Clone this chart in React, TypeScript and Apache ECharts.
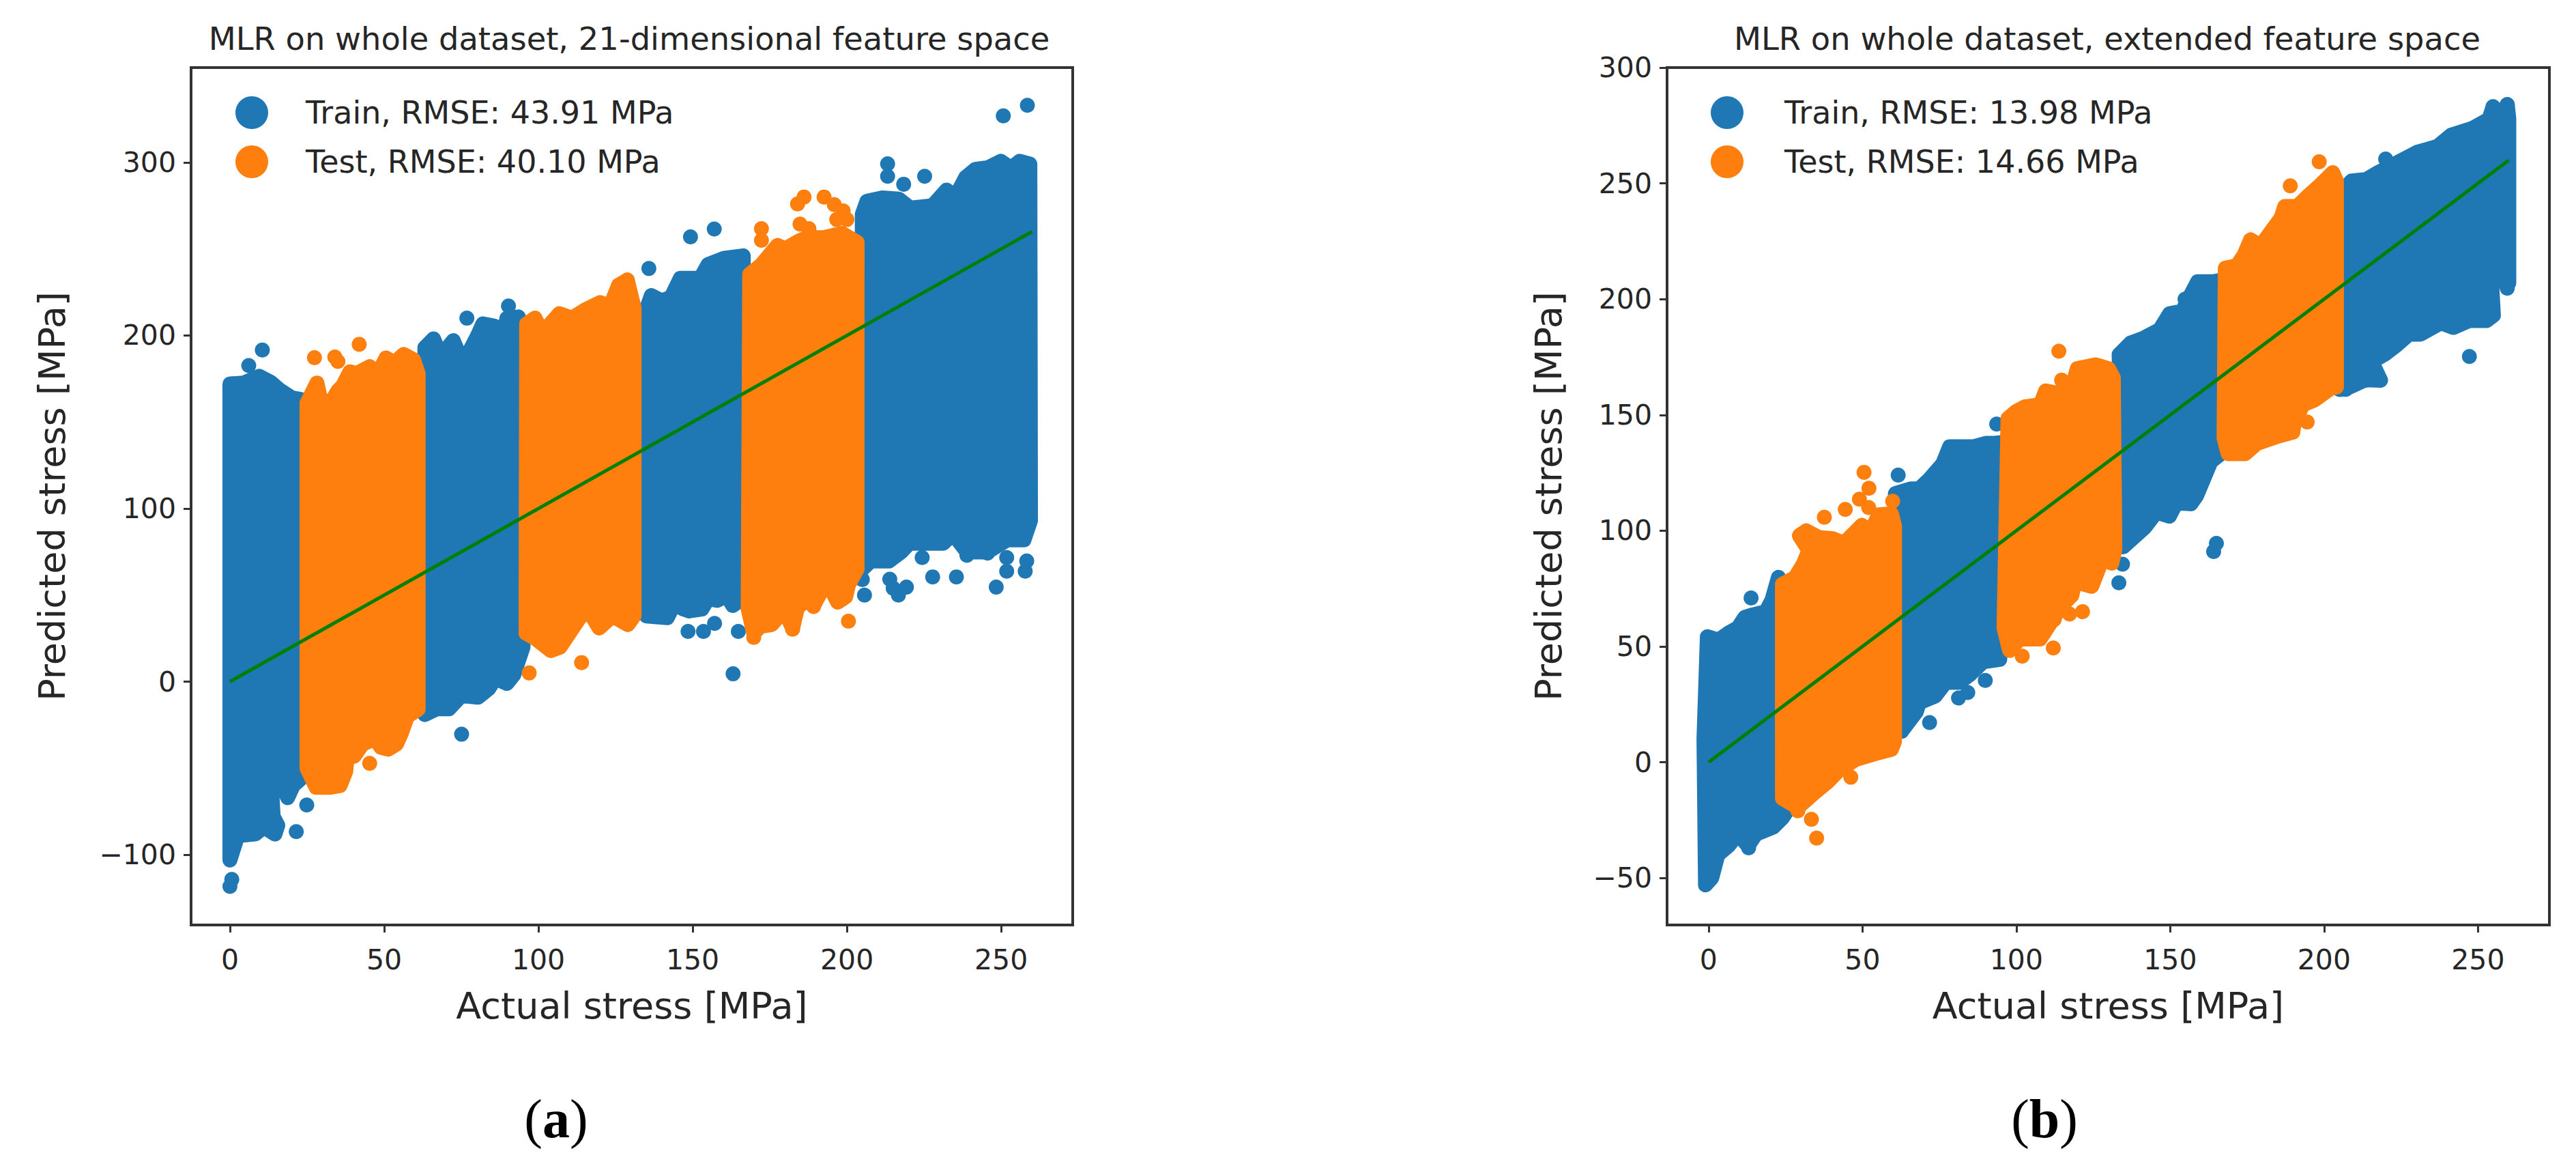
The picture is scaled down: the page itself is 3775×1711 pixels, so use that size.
import React, { useEffect, useRef } from "react";
import * as echarts from "echarts";

const BLUE = "#1f77b4";
const ORANGE = "#ff7f0e";
const GREEN = "#008000";
const INK = "#262626";
const FRAME = "#333333";
const FONT = "'DejaVu Sans'";
const DOT = 22;

const panelTitles = [
  "MLR on whole dataset, 21-dimensional feature space",
  "MLR on whole dataset, extended feature space",
];
const captions = ["a", "b"];
const xLabel = "Actual stress [MPa]";
const yLabel = "Predicted stress [MPa]";
const xTicks = [0, 50, 100, 150, 200, 250];
const aYTicks = [-100, 0, 100, 200, 300];
const bYTicks = [-50, 0, 50, 100, 150, 200, 250, 300];
const idealLine = [[0, 0], [260, 260]];

const aLegend = ["Train, RMSE: 43.91 MPa", "Test, RMSE: 40.10 MPa"];
const bLegend = ["Train, RMSE: 13.98 MPa", "Test, RMSE: 14.66 MPa"];

// ---------- panel (a): outlines ----------
const aTrainTop = [
  [[0, 172], [4.5, 172.5], [9.5, 176.4], [13.2, 173], [16, 168.6], [20, 164], [23, 163]],
  [[63.2, 193], [66, 198], [68.3, 188], [72.4, 197], [75, 186], [77.4, 190], [80.2, 199.5], [82, 206.7], [85.7, 205.4], [88.9, 201.4], [89.8, 210], [93.5, 210.7], [95, 201]],
  [[135, 215], [136.6, 223], [139.9, 220], [143, 222], [146, 233], [152.5, 233], [155, 241], [160.3, 244.6], [166.4, 246]],
  [[205, 270], [206.5, 277.5], [211.5, 279.5], [216.8, 278.8], [220.5, 273.6], [227.8, 275], [232.3, 284], [235.2, 280], [238.5, 291.3], [241.7, 296], [245.8, 297], [249.9, 300.6], [253.2, 296.6], [256, 300.6], [259.3, 299]],
];
const aTrainBottom = [
  [[0, -103], [2.5, -89], [8.2, -88], [11, -84], [14.6, -88], [15.5, -83], [14, -78], [13.5, -62], [17, -59], [18.7, -67], [20.5, -60], [23, -56]],
  [[63.2, -19], [67, -15.7], [71, -15.7], [75, -8], [80.4, -9], [83.9, -4], [86, 2], [89.8, -1], [92, 4], [95, 20]],
  [[135, 38], [141.8, 37], [144, 45], [147, 42], [149, 41], [153, 42], [155, 48], [158, 47], [161, 50], [163, 44], [166, 48]],
  [[205, 65], [207.7, 69.7], [213.6, 69.7], [217.6, 75], [220.3, 80], [227.6, 80], [231.2, 80], [234.4, 85.5], [238.9, 75], [245.6, 75], [252, 82], [257.4, 82], [259.5, 93]],
];
const aTestTop = [
  [[25, 161], [28.2, 172.5], [29.5, 162], [33, 162], [35, 168], [36.6, 171], [38.9, 179], [41.2, 178], [45.3, 182], [48, 178], [50.6, 187], [53.3, 184], [56.3, 189], [59.5, 186], [61, 178]],
  [[96.2, 206.7], [98.9, 210], [101.3, 201.5], [106.8, 212.6], [110.9, 210], [115, 214.6], [120, 219], [123.3, 217], [126, 229], [128.8, 232], [131, 216]],
  [[168.5, 235.4], [172.2, 240.7], [177.5, 252], [180, 250], [184.4, 254.5], [186.9, 256.5], [192.6, 256.5], [198.4, 259], [203.3, 253.8]],
];
const aTestBottom = [
  [[25, -50], [27.9, -61], [32.5, -61], [35.7, -60], [37.5, -52], [38, -44], [40.3, -43], [43, -36], [47, -33], [49, -38], [51.3, -39], [54, -36], [55.5, -30], [57.5, -20], [61, -16]],
  [[96, 28], [99, 25], [104, 18], [107, 20], [110, 28], [113, 36], [116, 42], [119.7, 31], [124, 38], [129, 33], [131, 38]],
  [[168, 42], [169.8, 28], [172, 32], [175.6, 33], [178, 38], [180, 40], [182.4, 31], [184, 43], [187, 47], [189.2, 44], [191, 50], [193, 56], [195, 53], [197, 46], [199.6, 49], [200.5, 56], [203.3, 65]],
];
const aTrainOutliers = [
  [10.5, 191.6], [6.1, 182.6], [76.8, 210], [90.3, 217], [135.8, 238.7], [149.3, 257], [157, 261.5], [213.2, 299.2],
  [213.2, 292], [218.4, 287.4], [225.2, 292], [250.7, 326.9], [258.5, 333], [0.6, -114.3], [0, -118.3], [21.5, -86.7],
  [12.8, -79.5], [24.9, -71.3], [75.1, -30.4], [148.5, 29], [153.5, 29], [157.1, 33.6], [164.8, 29], [163.1, 4.5],
  [205, 59], [205.7, 50], [213.9, 59.2], [216.7, 50], [215, 54], [219.3, 54.6], [227.8, 60.5], [235.5, 60.5],
  [224.4, 71.7], [238.9, 73], [245.6, 74.3], [251.8, 71.7], [251.8, 63.8], [258.3, 69.7], [257.8, 63.8], [248.4, 54.6],
  [148.8, 40.8],
];
const aTestOutliers = [
  [27.4, 187.2], [34, 187.6], [35, 185], [41.9, 194.9], [126, 229], [128.8, 232], [172.3, 261.7], [172.3, 255],
  [184.8, 264.4], [187.7, 261.7], [184, 276], [186.1, 280], [192.6, 280], [195.9, 275.6], [198.8, 272], [196.7, 267],
  [200, 267], [45.3, -47.2], [97, 5], [114, 11], [200.5, 34.9], [169.8, 25.6], [189.2, 43.4], [182.4, 30.3],
];

// ---------- panel (b): outlines ----------
const bTrainTop = [
  [[-1.5, 10], [-0.4, 54.2], [3.2, 52.7], [6.4, 55.7], [9.6, 58.1], [11.8, 62.6], [14.1, 63.5], [18.6, 65], [20.6, 70], [22.7, 79.8], [24, 74]],
  [[60.7, 116], [65.7, 118], [68.4, 118], [71.6, 122], [76.1, 128.9], [78.3, 136.2], [86, 136.2], [90.1, 137.7], [92.8, 137.7], [95, 138]],
  [[133.4, 176], [137.1, 181], [141.2, 183], [146.6, 186.8], [149.8, 193.7], [153.9, 194.7], [158.9, 207.5], [163.8, 207.5], [166, 208]],
  [[205, 245], [208.9, 251], [213.8, 251.7], [217.5, 254.6], [225.3, 260], [230.2, 263.4], [236.8, 265.9], [241.3, 270.8], [248.3, 273.8], [253.6, 277.7], [254.9, 283], [257, 278], [259.5, 284], [260, 278]],
];
const bTrainBottom = [
  [[-1, -53], [1, -50], [3, -40], [6.5, -36], [9.5, -31], [12.8, -36], [15.4, -31], [21, -28], [24, -24], [26, -20]],
  [[62.7, 13.4], [67.5, 21.8], [68.4, 25.7], [73.6, 28.6], [77, 34.5], [81.5, 34.5], [85, 38], [89.2, 43.4], [94.6, 44.4]],
  [[134.7, 93], [141.7, 101.4], [145.5, 108], [149.7, 106.3], [152, 112], [156.7, 111.7], [158.5, 115], [160.4, 121], [163.2, 129.9], [166, 132.8]],
  [[205, 161], [207, 161.3], [213.4, 165.2], [218.3, 165], [215.5, 173], [220, 176.5], [223.4, 180], [227.6, 184.9], [231.3, 184.9], [237.9, 189.8], [242, 187.8], [247.2, 190.8], [252.8, 190.8], [255, 193], [254.5, 205], [256, 209], [260, 207]],
];
const bTestTop = [
  [[24, 76.8], [28.1, 79.7], [30.8, 85.6], [32.6, 91.5], [29.5, 97.9], [31.7, 99.9], [35.8, 97], [40.3, 96.5], [44, 94.5], [49.8, 102.3], [52.6, 99.4], [55.3, 106.8], [59.4, 107.3], [60.4, 102]],
  [[97.3, 148.5], [100, 151.5], [102.7, 153.4], [107.8, 154.4], [109.5, 160.3], [113.6, 159.3], [117.3, 158], [119.8, 170], [125.8, 171.6], [129.9, 170], [131.5, 166]],
  [[167.9, 213.4], [171.6, 214.3], [174, 219], [176.1, 225.6], [179.4, 223], [182.7, 229], [186, 235], [187.2, 240], [191.3, 240], [195, 244.8], [198.3, 248.7], [202.8, 254.6], [204, 251]],
];
const bTestBottom = [
  [[24, -15.6], [29, -19.5], [34, -13.6], [38.5, -8.7], [42.1, -3.8], [47.6, 1.1], [54.8, 4], [59.4, 5.6], [60.4, 9]],
  [[96, 58], [97.8, 48.3], [101, 53.2], [107.7, 53.2], [112, 62], [115, 68], [118, 72], [119, 78], [124.5, 76], [128, 88], [131, 86], [132, 92]],
  [[167.5, 140], [168.8, 133.3], [174.4, 133.3], [178.1, 137.7], [184.7, 140.7], [189.8, 142.6], [190.3, 146.6], [193.1, 154.4], [196.8, 156.4], [202.4, 161.8], [204, 162]],
];
const bTrainOutliers = [
  [13.8, 70.9], [61.6, 124], [93.6, 146], [154.8, 200], [220, 260.5], [254.9, 283.1], [259.5, 284], [13, -37],
  [62.7, 13.4], [71.8, 17.1], [81.2, 27.7], [84.2, 30.1], [89.9, 35.3], [134.5, 85.5], [133.3, 77.5], [149.7, 106.3],
  [156.7, 111.7], [165, 94.5], [164.1, 91], [207, 161], [213.4, 165], [218.3, 165], [247.2, 175.2], [259.5, 204.7],
];
const bTestOutliers = [
  [37.6, 105.8], [44.4, 109.2], [50.5, 125.2], [52.1, 118.3], [49, 113.6], [52, 110], [59.8, 112.7], [113.8, 177.5],
  [114.7, 165], [189, 248.9], [198.4, 259.3], [29, -21], [33.4, -24.7], [35.1, -32.8], [46.2, -6.5], [101.9, 45.8],
  [112, 49.3], [112.3, 61.6], [117.3, 64], [121.5, 65], [124.5, 76.3], [194.5, 146.9], [189.8, 142.6], [202.4, 161.8],
];

const minusFmt = (v: number) => String(v).replace("-", "\u2212");

function bandSeries(name: string, color: string, tops: number[][][], bottoms: number[][][], axis: number, z: number) {
  return tops.map((top, i) => {
    const outline = [...top, ...[...bottoms[i]].reverse()];
    return {
      type: "custom",
      name,
      xAxisIndex: axis,
      yAxisIndex: axis,
      z,
      silent: true,
      itemStyle: { color },
      data: outline,
      renderItem: (params: any, api: any) => {
        if (params.dataIndex !== 0) return null;
        return {
          type: "polygon",
          shape: { points: outline.map((p) => api.coord(p)) },
          style: { fill: color, stroke: color, lineWidth: DOT, lineJoin: "round" },
        };
      },
    };
  });
}

function dotSeries(name: string, color: string, data: number[][], axis: number, z: number) {
  return {
    type: "scatter",
    name,
    xAxisIndex: axis,
    yAxisIndex: axis,
    z,
    silent: true,
    symbol: "circle",
    symbolSize: DOT,
    itemStyle: { color, opacity: 1 },
    data,
  };
}

function xAxisOf(idx: number, min: number, max: number) {
  return {
    type: "value",
    gridIndex: idx,
    min,
    max,
    name: xLabel,
    nameLocation: "middle",
    nameGap: 91,
    nameTextStyle: { fontFamily: FONT, fontSize: 54, color: INK },
    splitLine: { show: false },
    axisLine: { show: true, onZero: false, lineStyle: { color: FRAME, width: 4 } },
    axisTick: { show: true, length: 11, customValues: xTicks, lineStyle: { color: FRAME, width: 3 } },
    axisLabel: { margin: 30, fontFamily: FONT, fontSize: 41, color: INK, customValues: xTicks, formatter: minusFmt },
  };
}

function yAxisOf(idx: number, min: number, max: number, ticks: number[], gap: number) {
  return {
    type: "value",
    gridIndex: idx,
    min,
    max,
    name: yLabel,
    nameLocation: "middle",
    nameGap: gap,
    nameTextStyle: { fontFamily: FONT, fontSize: 54, color: INK },
    splitLine: { show: false },
    axisLine: { show: true, onZero: false, lineStyle: { color: FRAME, width: 4 } },
    axisTick: { show: true, length: 11, customValues: ticks, lineStyle: { color: FRAME, width: 3 } },
    axisLabel: { margin: 22, fontFamily: FONT, fontSize: 41, color: INK, customValues: ticks, formatter: minusFmt },
  };
}

function legendOf(names: string[], left: number, textGap: number) {
  return {
    data: names.map((name) => ({ name, icon: "circle" })),
    orient: "vertical",
    left,
    top: 141,
    padding: 0,
    itemWidth: 48,
    itemHeight: 48,
    itemGap: 24,
    selectedMode: false,
    textStyle: { fontFamily: FONT, fontSize: 46, color: INK, padding: [0, 0, 0, textGap] },
  };
}

function titleOf(text: string, left: number) {
  return {
    text,
    left,
    top: 29,
    textAlign: "center",
    textStyle: { fontFamily: FONT, fontSize: 46.4, fontWeight: "normal", color: INK },
  };
}

function captionOf(letter: string, left: number) {
  return {
    text: `{p|(}{b|${letter}}{p|)}`,
    left,
    top: 1594,
    textAlign: "center",
    textStyle: {
      rich: {
        p: { fontFamily: "'Liberation Serif'", fontSize: 80, fontWeight: "normal", color: "#000" },
        b: { fontFamily: "'Liberation Serif'", fontSize: 80, fontWeight: "bold", color: "#000" },
      },
    },
  };
}

const option: any = {
  animation: false,
  backgroundColor: "#ffffff",
  title: [
    titleOf(panelTitles[0], 917),
    titleOf(panelTitles[1], 3083),
    captionOf(captions[0], 810),
    captionOf(captions[1], 2991),
  ],
  grid: [
    { left: 280, top: 99, width: 1292, height: 1256, show: true, borderColor: FRAME, borderWidth: 4, backgroundColor: "#fff" },
    { left: 2443, top: 99, width: 1293, height: 1256, show: true, borderColor: FRAME, borderWidth: 4, backgroundColor: "#fff" },
  ],
  xAxis: [xAxisOf(0, -12.6, 273.2), xAxisOf(1, -13.5, 273.2)],
  yAxis: [yAxisOf(0, -140.6, 354.8, aYTicks, 177), yAxisOf(1, -70.3, 300, bYTicks, 147)],
  legend: [legendOf(aLegend, 345, 50), legendOf(bLegend, 2507, 55)],
  series: [
    ...bandSeries(aLegend[0], BLUE, aTrainTop, aTrainBottom, 0, 2),
    dotSeries(aLegend[0], BLUE, aTrainOutliers, 0, 2),
    ...bandSeries(aLegend[1], ORANGE, aTestTop, aTestBottom, 0, 3),
    dotSeries(aLegend[1], ORANGE, aTestOutliers, 0, 3),
    { type: "line", name: "ideal a", xAxisIndex: 0, yAxisIndex: 0, z: 4, silent: true, symbol: "none", lineStyle: { color: GREEN, width: 5 }, data: idealLine },
    ...bandSeries(bLegend[0], BLUE, bTrainTop, bTrainBottom, 1, 2),
    dotSeries(bLegend[0], BLUE, bTrainOutliers, 1, 2),
    ...bandSeries(bLegend[1], ORANGE, bTestTop, bTestBottom, 1, 3),
    dotSeries(bLegend[1], ORANGE, bTestOutliers, 1, 3),
    { type: "line", name: "ideal b", xAxisIndex: 1, yAxisIndex: 1, z: 4, silent: true, symbol: "none", lineStyle: { color: GREEN, width: 5 }, data: idealLine },
  ],
};

export default function App() {
  const ref = useRef<HTMLDivElement>(null);
  useEffect(() => {
    const chart = echarts.init(ref.current!, undefined, { renderer: "svg" });
    chart.setOption(option);
    return () => chart.dispose();
  }, []);
  return <div ref={ref} style={{ position: "fixed", left: 0, top: 0, width: 3775, height: 1711, background: "#fff" }} />;
}
